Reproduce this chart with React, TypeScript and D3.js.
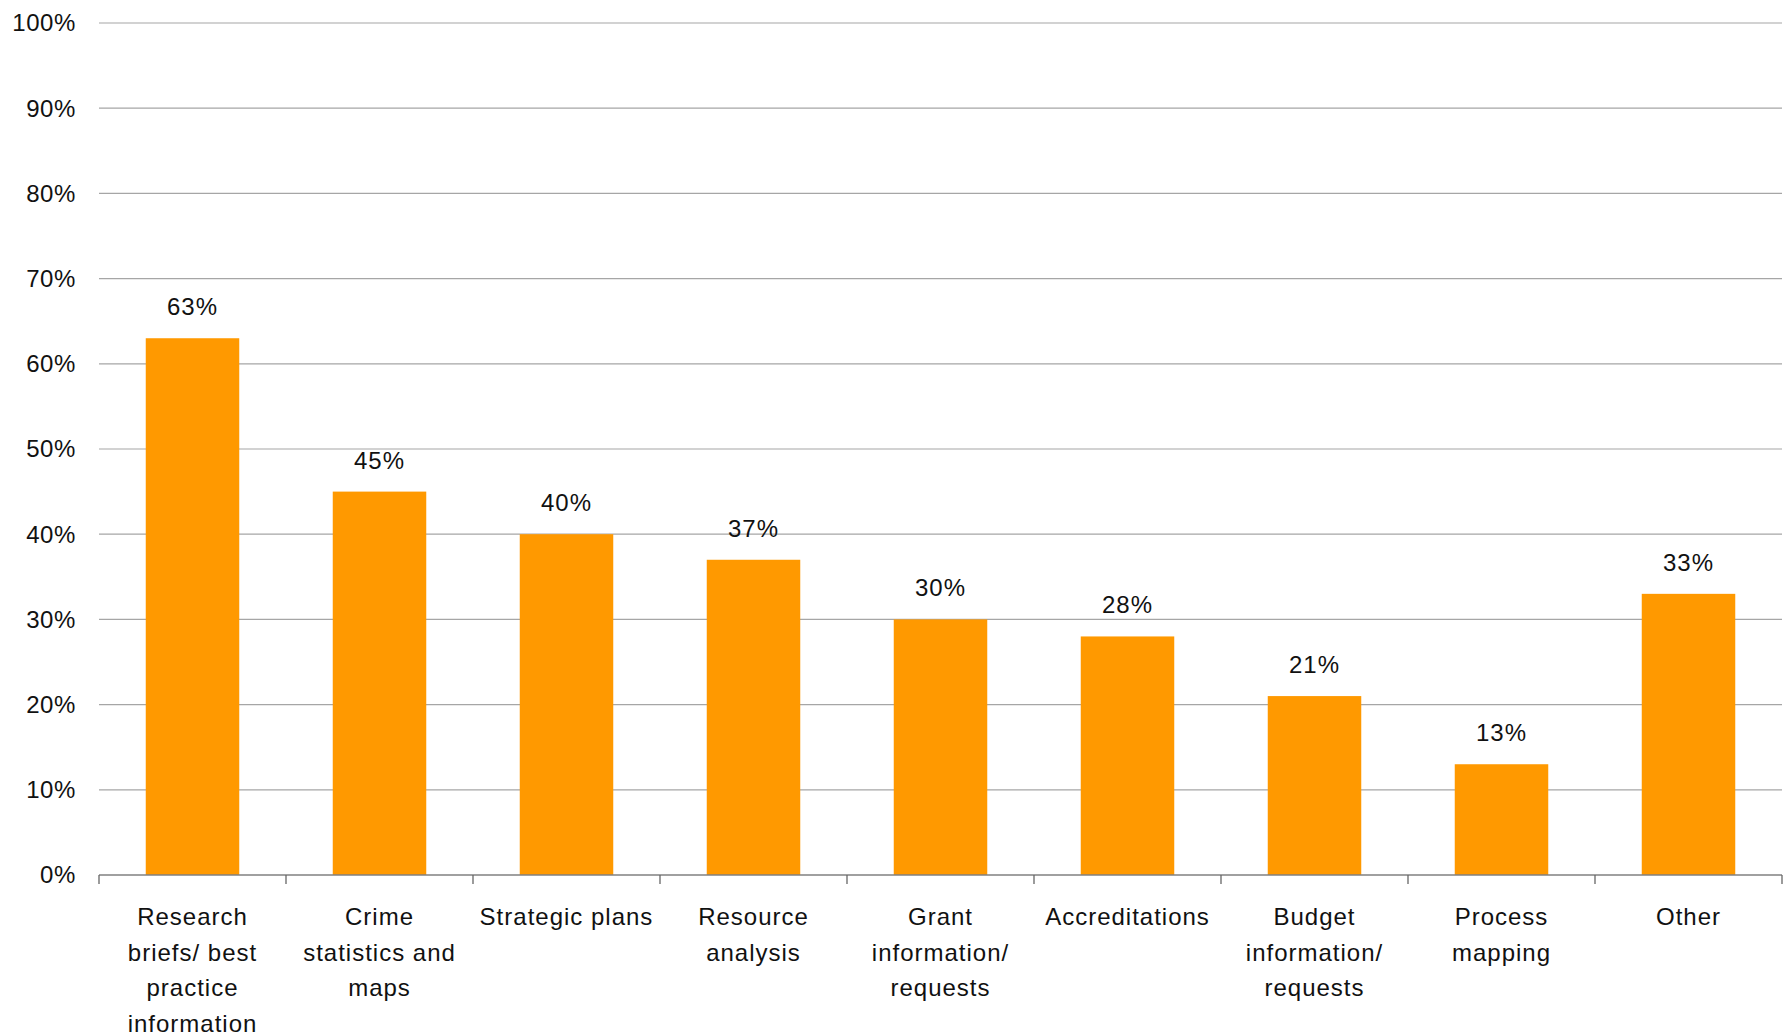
import React from "react";
import * as d3 from "d3";

const categories: string[][] = [
  ["Research", "briefs/ best", "practice", "information"],
  ["Crime", "statistics and", "maps"],
  ["Strategic plans"],
  ["Resource", "analysis"],
  ["Grant", "information/", "requests"],
  ["Accreditations"],
  ["Budget", "information/", "requests"],
  ["Process", "mapping"],
  ["Other"],
];
const values: number[] = [63, 45, 40, 37, 30, 28, 21, 13, 33];
const yTicks: number[] = [0, 10, 20, 30, 40, 50, 60, 70, 80, 90, 100];

const W = 1789;
const H = 1035;
const left = 99;
const right = 1782;
const top = 23;
const bottom = 875;
const font = "'Liberation Sans', Arial, sans-serif";

export default function App() {
  const idx = categories.map((_, i) => String(i));
  const x = d3.scaleBand<string>().domain(idx).range([left, right]).paddingInner(0.5).paddingOuter(0.25);
  const xb = d3.scaleBand<string>().domain(idx).range([left, right]).padding(0);
  const y = d3.scaleLinear().domain([0, 100]).range([bottom, top]);
  return (
    <svg width={W} height={H} style={{ position: "absolute", left: 0, top: 0, background: "#fff" }}>
      {yTicks.map((t) => (
        <g key={t}>
          {t > 0 && (
            <line x1={left} x2={right} y1={y(t)} y2={y(t)} stroke="#a6a6a6" strokeWidth={1.2} />
          )}
          <text x={76} y={y(t)} dy="0.35em" textAnchor="end" fontFamily={font} fontSize={24} fill="#111" letterSpacing={0.6}>
            {t}%
          </text>
        </g>
      ))}
      {values.map((v, i) => (
        <g key={i}>
          <rect x={x(String(i))} y={y(v)} width={x.bandwidth()} height={bottom - y(v)} fill="#FF9900" />
          <text
            x={(x(String(i)) as number) + x.bandwidth() / 2}
            y={y(v) - 23}
            textAnchor="middle"
            fontFamily={font}
            fontSize={24}
            fill="#111"
            letterSpacing={1}
          >
            {v}%
          </text>
        </g>
      ))}
      <line x1={left} x2={right} y1={bottom} y2={bottom} stroke="#808080" strokeWidth={1.5} />
      {d3.range(categories.length + 1).map((i) => {
        const tx = i < categories.length ? (xb(String(i)) as number) : right;
        return <line key={i} x1={tx} x2={tx} y1={bottom} y2={bottom + 9} stroke="#666" strokeWidth={1.3} />;
      })}
      {categories.map((lines, i) => (
        <text
          key={i}
          textAnchor="middle"
          fontFamily={font}
          fontSize={24}
          fill="#111"
          letterSpacing={1}
        >
          {lines.map((ln, j) => (
            <tspan key={j} x={(xb(String(i)) as number) + xb.bandwidth() / 2} y={925 + j * 35.5}>
              {ln}
            </tspan>
          ))}
        </text>
      ))}
    </svg>
  );
}
